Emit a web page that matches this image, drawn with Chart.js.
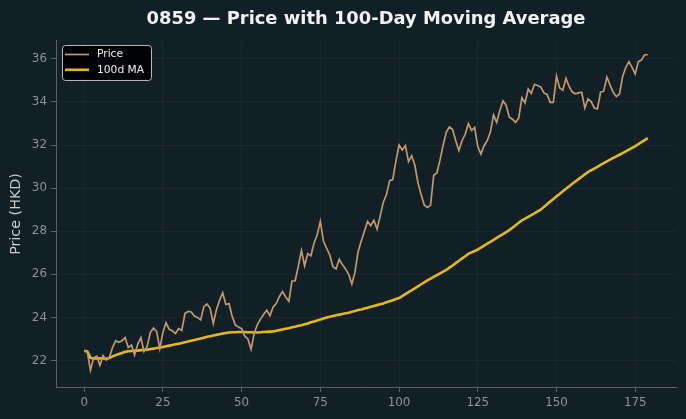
<!DOCTYPE html>
<html>
<head>
<meta charset="utf-8">
<script src="https://cdn.jsdelivr.net/npm/chart.js@4.4.1/dist/chart.umd.min.js"></script>
<style>
  html, body { margin: 0; padding: 0; background: #111f26; }
  #wrap { width: 686px; height: 419px; }
</style>
</head>
<body>
<div id="wrap"><canvas id="chart" width="686" height="419"></canvas></div>
<script>
// Daily closing price, day 0..179
const price = [
  22.45, 22.38, 21.55, 22.12, 22.2, 21.78, 22.23, 22.02, 22.15, 22.6,
  22.92, 22.85, 22.92, 23.06, 22.6, 22.72, 22.25, 22.75, 23.06, 22.42,
  22.65, 23.3, 23.5, 23.35, 22.55, 23.3, 23.75, 23.45, 23.38, 23.25,
  23.48, 23.4, 24.18, 24.28, 24.25, 24.06, 24.0, 23.88, 24.5, 24.62,
  24.42, 23.72, 24.36, 24.8, 25.14, 24.6, 24.64, 24.05, 23.65, 23.55,
  23.48, 23.13, 23.0, 22.52, 23.25, 23.67, 23.92, 24.15, 24.33, 24.08,
  24.48, 24.64, 24.97, 25.2, 24.95, 24.75, 25.68, 25.7, 26.37, 27.1,
  26.4, 26.96, 26.86, 27.45, 27.84, 28.46, 27.53, 27.2, 26.9, 26.35,
  26.25, 26.7, 26.45, 26.25, 26.0, 25.55, 26.1, 27.06, 27.55, 28.0,
  28.45, 28.26, 28.51, 28.1, 28.7, 29.35, 29.7, 30.35, 30.4, 31.25,
  32.0, 31.77, 31.97, 31.23, 31.5, 31.07, 30.25, 29.7, 29.22, 29.1,
  29.2, 30.6, 30.7, 31.3, 32.0, 32.6, 32.85, 32.72, 32.2, 31.75,
  32.2, 32.5, 32.99, 32.68, 32.82, 31.93, 31.58, 31.97, 32.2, 32.6,
  33.4, 33.05, 33.6, 34.05, 33.85, 33.3, 33.2, 33.05, 33.25, 34.2,
  33.95, 34.6, 34.4, 34.82, 34.76, 34.7, 34.42, 34.35, 33.98, 33.98,
  35.2, 34.65, 34.55, 35.1, 34.72, 34.46, 34.38, 34.42, 34.45, 33.72,
  34.14, 34.02, 33.72, 33.68, 34.45, 34.5, 35.15, 34.79, 34.45, 34.25,
  34.37, 35.18, 35.61, 35.87, 35.61, 35.3, 35.87, 35.95, 36.19, 36.19
];

// 100-day moving average
const ma100 = [
  22.45, 22.42, 22.12, 22.10, 22.10, 22.10, 22.09, 22.08, 22.12, 22.19,
  22.25, 22.30, 22.35, 22.40, 22.43, 22.44, 22.45, 22.46, 22.48, 22.49,
  22.50, 22.53, 22.55, 22.58, 22.60, 22.63, 22.66, 22.69, 22.72, 22.75,
  22.78, 22.81, 22.85, 22.88, 22.92, 22.95, 22.99, 23.02, 23.06, 23.10,
  23.13, 23.16, 23.19, 23.22, 23.25, 23.28, 23.30, 23.31, 23.31, 23.32,
  23.32, 23.32, 23.31, 23.31, 23.30, 23.30, 23.31, 23.32, 23.33, 23.34,
  23.35, 23.38, 23.41, 23.44, 23.47, 23.50, 23.54, 23.57, 23.61, 23.64,
  23.68, 23.72, 23.77, 23.81, 23.86, 23.90, 23.95, 24.00, 24.03, 24.07,
  24.10, 24.13, 24.16, 24.19, 24.22, 24.26, 24.30, 24.34, 24.37, 24.41,
  24.45, 24.49, 24.53, 24.57, 24.61, 24.65, 24.70, 24.75, 24.80, 24.85,
  24.90, 24.99, 25.08, 25.17, 25.26, 25.35, 25.44, 25.54, 25.63, 25.72,
  25.80, 25.88, 25.96, 26.04, 26.12, 26.20, 26.31, 26.41, 26.52, 26.63,
  26.74, 26.84, 26.95, 27.02, 27.08, 27.15, 27.24, 27.33, 27.42, 27.51,
  27.60, 27.69, 27.78, 27.87, 27.96, 28.05, 28.16, 28.28, 28.39, 28.50,
  28.58, 28.67, 28.75, 28.83, 28.92, 29.00, 29.13, 29.25, 29.38, 29.50,
  29.62, 29.73, 29.85, 29.97, 30.08, 30.20, 30.31, 30.42, 30.53, 30.64,
  30.75, 30.83, 30.91, 30.99, 31.08, 31.16, 31.24, 31.32, 31.40, 31.47,
  31.55, 31.63, 31.71, 31.79, 31.87, 31.95, 32.04, 32.14, 32.23, 32.32
];

const xTicks = [0, 25, 50, 75, 100, 125, 150, 175];
const yTicks = [22, 24, 26, 28, 30, 32, 34, 36];
const seriesNames = ["Price", "100d MA"];

const FONT = "'DejaVu Sans', sans-serif";
const priceColor = "#c4986a";
const maColor = "#e6b814";
const spineColor = "#5a6266";
const gridColor = "rgba(255,255,255,0.04)";
const tickLabelColor = "#8d9497";

const points = arr => arr.map((v, i) => ({ x: i, y: v }));

// legend box drawn inside the plot, top-left
const insideLegend = {
  id: "insideLegend",
  afterDraw(chart) {
    const ctx = chart.ctx;
    const x = chart.chartArea.left + 6, y = chart.chartArea.top + 4;
    const w = 89, h = 35;
    ctx.save();
    ctx.beginPath();
    if (ctx.roundRect) ctx.roundRect(x + 0.5, y + 0.5, w, h, 3);
    else ctx.rect(x + 0.5, y + 0.5, w, h);
    ctx.fillStyle = "rgba(0,0,0,0.92)";
    ctx.fill();
    ctx.strokeStyle = "#b8bcbe";
    ctx.lineWidth = 1;
    ctx.stroke();
    const colors = [priceColor, maColor];
    const widths = [1.7, 2.6];
    ctx.font = "normal 10.7px " + FONT;
    ctx.textBaseline = "middle";
    seriesNames.forEach((name, k) => {
      const ly = y + 9.5 + k * 15.3;
      ctx.beginPath();
      ctx.moveTo(x + 3, ly);
      ctx.lineTo(x + 27, ly);
      ctx.strokeStyle = colors[k];
      ctx.lineWidth = widths[k];
      ctx.stroke();
      ctx.fillStyle = "#eeeeee";
      ctx.fillText(name, x + 35, ly);
    });
    ctx.restore();
  }
};

new Chart(document.getElementById("chart"), {
  type: "line",
  data: {
    datasets: [
      {
        label: seriesNames[0],
        data: points(price),
        borderColor: priceColor,
        borderWidth: 1.7,
        pointRadius: 0,
        tension: 0
      },
      {
        label: seriesNames[1],
        data: points(ma100),
        borderColor: maColor,
        borderWidth: 2.6,
        pointRadius: 0,
        tension: 0
      }
    ]
  },
  options: {
    responsive: false,
    animation: false,
    layout: { padding: { left: 0, right: 10, top: 0, bottom: 0 } },
    plugins: {
      legend: { display: false },
      tooltip: { enabled: false },
      title: {
        display: true,
        text: "0859 — Price with 100-Day Moving Average",
        color: "#f2f2f2",
        fullSize: false,
        font: { family: FONT, size: 17.9, weight: "bold" },
        padding: { top: 8.5, bottom: 11 }
      }
    },
    scales: {
      x: {
        type: "linear",
        min: -8.95,
        max: 187.95,
        afterBuildTicks: s => { s.ticks = xTicks.map(v => ({ value: v })); },
        afterFit: s => { s.height = 32; },
        grid: { color: gridColor, tickColor: spineColor, tickLength: 5 },
        border: { color: spineColor, width: 1 },
        ticks: { color: tickLabelColor, font: { family: FONT, size: 11.9 }, padding: 4, autoSkip: false, maxRotation: 0 }
      },
      y: {
        min: 20.77,
        max: 36.83,
        afterBuildTicks: s => { s.ticks = yTicks.map(v => ({ value: v })); },
        afterFit: s => { s.width = 56; },
        grid: { color: gridColor, tickColor: spineColor, tickLength: 5 },
        border: { color: spineColor, width: 1 },
        ticks: { color: tickLabelColor, font: { family: FONT, size: 11.9 }, padding: 4, autoSkip: false },
        title: {
          display: true,
          text: "Price (HKD)",
          color: "#c9cdce",
          font: { family: FONT, size: 14.3 },
          padding: { top: 8, bottom: 0 }
        }
      }
    }
  },
  plugins: [insideLegend]
});
</script>
</body>
</html>
